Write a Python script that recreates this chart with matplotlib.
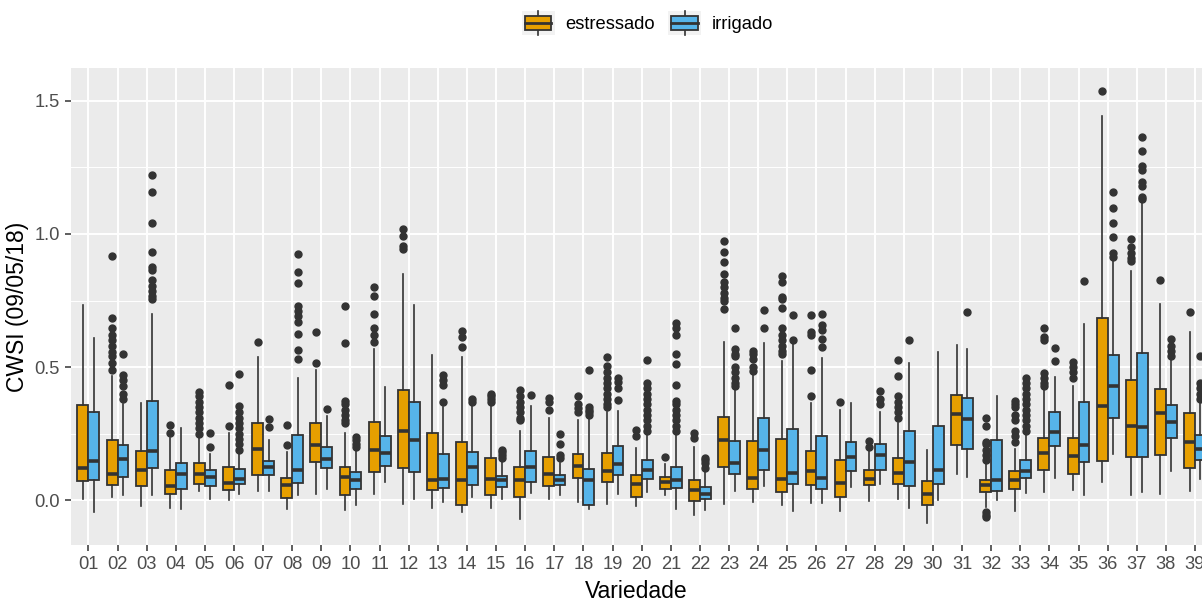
import matplotlib
matplotlib.use("Agg")
import matplotlib.pyplot as plt
from matplotlib.patches import Rectangle, Patch
from matplotlib.lines import Line2D
from matplotlib.legend_handler import HandlerBase

plt.rcParams['font.family'] = ['Liberation Sans', 'DejaVu Sans']

varieties = ['01', '02', '03', '04', '05', '06', '07', '08', '09', '10',
             '11', '12', '13', '14', '15', '16', '17', '18', '19', '20',
             '21', '22', '23', '24', '25', '26', '27', '28', '29', '30',
             '31', '32', '33', '34', '35', '36', '37', '38', '39']

# estressado
e_lo = [.005, .013, -.023, -.03, .036, 0.0, .036, -.032, .023, -.036,
        .023, -.013, -.03, -.045, -.03, -.071, .003, -.006, -.013, -.023,
        .02, -.054, -.013, -.006, -.017, -.009, -.039, -.003, .006, -.086,
        .097, -.026, -.039, .032, .039, .067, .019, .023, .036]
e_q1 = [.072, .055, .052, .023, .061, .039, .093, .009, .142, .019,
        .106, .119, .039, -.017, .019, .013, .052, .084, .067, .013,
        .041, -.004, .125, .041, .032, .055, .013, .055, .062, -.017,
        .206, .03, .043, .112, .099, .148, .161, .168, .12]
e_med = [.122, .099, .114, .052, .097, .065, .191, .055, .206, .086,
         .187, .261, .077, .075, .081, .074, .097, .129, .11, .061,
         .067, .039, .226, .084, .081, .11, .065, .081, .103, .023,
         .325, .058, .077, .177, .165, .355, .28, .329, .219]
e_q3 = [.357, .226, .183, .114, .138, .125, .29, .084, .29, .125,
        .294, .415, .252, .217, .157, .125, .161, .174, .178, .093,
        .088, .077, .313, .222, .23, .183, .152, .112, .157, .071,
        .396, .077, .11, .235, .235, .686, .451, .419, .326]
e_hi = [.733, .468, .364, .232, .239, .252, .539, .18, .49, .254,
        .568, .849, .546, .539, .355, .261, .31, .30, .333, .196,
        .135, .2, .596, .471, .522, .364, .338, .187, .29, .19,
        .583, .14, .193, .415, .428, 1.445, .86, .738, .632]
e_out = [[], [.916, .684, .645, .62, .60, .58, .555, .54, .516, .49], [],
         [.284, .252], [.406, .39, .37, .35, .33, .31, .29, .27, .25],
         [.432, .277], [.593], [.284, .206], [.632, .515],
         [.731, .59, .374, .36, .34, .32, .30, .29],
         [.80, .768, .70, .648, .62, .593], [1.019, .993, .955, .942], [],
         [.635, .613, .574], [.40, .39, .38, .37],
         [.413, .393, .37, .35, .33, .31, .30], [.385, .37, .34],
         [.393, .36, .345, .33],
         [.539, .503, .48, .46, .44, .42, .40, .38, .36, .35],
         [.264, .241], [.161], [.252, .232],
         [.974, .931, .893, .849, .82, .80, .78, .76, .75, .72],
         [.561, .548, .53, .50, .485],
         [.841, .82, .764, .755, .722, .648, .62, .60, .58, .56, .55],
         [.694, .632, .62, .49, .393], [.368], [.222, .20],
         [.526, .467, .39, .37, .35, .33, .31], [], [],
         [.31, .28, .22, .21, .19, .17, .15, -.045, -.055, -.065],
         [.374, .36, .35, .32, .30, .26, .24, .22],
         [.648, .613, .60, .477, .46, .44, .43], [.518, .50, .48, .46],
         [1.538], [.98, .95, .93, .91, .90], [.826], [.706]]

# irrigado
i_lo = [-.045, .02, .02, -.035, .006, .023, .036, .02, .043, -.017,
        .067, .006, -.006, .013, .003, .028, .02, -.032, .023, .03,
        -.035, -.036, .036, .054, -.039, -.009, .049, .061, -.028, 0.0,
        .086, 0.0, .026, .084, .019, .172, .03, .11, .08]
i_q1 = [.077, .088, .119, .041, .052, .061, .093, .065, .119, .041,
        .129, .106, .045, .055, .049, .067, .055, -.017, .093, .081,
        .045, .003, .097, .114, .062, .041, .11, .114, .052, .062,
        .193, .036, .084, .204, .142, .31, .161, .232, .152]
i_med = [.147, .155, .183, .097, .088, .081, .125, .112, .155, .075,
         .178, .226, .081, .123, .075, .123, .075, .077, .135, .114,
         .077, .023, .139, .187, .103, .084, .161, .17, .142, .114,
         .303, .074, .11, .255, .209, .43, .275, .293, .191]
i_q3 = [.332, .206, .374, .138, .112, .116, .148, .245, .20, .106,
        .241, .368, .174, .181, .09, .184, .094, .116, .204, .152,
        .125, .048, .222, .31, .268, .241, .217, .21, .258, .28,
        .384, .226, .152, .332, .368, .546, .551, .357, .245]
i_hi = [.61, .36, .70, .271, .174, .18, .226, .458, .316, .194,
        .426, .733, .35, .36, .15, .352, .14, .31, .335, .25,
        .243, .11, .419, .591, .587, .533, .364, .333, .516, .555,
        .568, .39, .245, .464, .66, .906, 1.125, .53, .368]
i_out = [[], [.548, .47, .45, .43, .40, .38],
         [1.222, 1.157, 1.042, .931, .877, .864, .826, .806, .787, .768, .755],
         [], [.252, .20], [.473, .355, .33, .31, .29, .27, .25, .23, .21, .19],
         [.306, .273],
         [.925, .858, .815, .73, .71, .69, .67, .626, .564, .53],
         [.342], [.238, .225, .21, .20], [], [], [.471, .452, .432, .37],
         [.38, .37], [.19, .18, .17, .16], [.396], [.248, .21, .17, .16],
         [.49, .35, .34, .33, .32], [.458, .445, .42, .378],
         [.526, .44, .42, .40, .38, .36, .34, .32, .30, .28, .26],
         [.667, .645, .62, .548, .51, .432, .374, .36, .34, .32, .30, .28, .26],
         [.16, .15, .14, .12],
         [.648, .568, .55, .54, .50, .48, .46, .44, .43],
         [.716, .648], [.697, .60], [.699, .658, .64, .604, .574], [],
         [.41, .38, .361], [.60], [], [.706], [],
         [.46, .44, .42, .40, .38, .36, .34, .32, .30, .28, .26],
         [.573, .522], [.822], [1.157, 1.099, 1.042, .99, .93, .915],
         [1.364, 1.31, 1.254, 1.24, 1.197, 1.18, 1.14, 1.13],
         [.606, .58, .56, .54], [.542, .44, .42, .40, .38]]

groups = ['estressado', 'irrigado']
colors = ['#E69F00', '#56B4E9']
edge = '#333333'


def make_stats(lo, q1, med, q3, hi, out):
    return [dict(whislo=a, q1=b, med=c, q3=d, whishi=e, fliers=f)
            for a, b, c, d, e, f in zip(lo, q1, med, q3, hi, out)]


class BoxKey(HandlerBase):
    # ggplot-like legend key: grey square with a small boxplot glyph
    def create_artists(self, legend, orig_handle, xdescent, ydescent,
                       width, height, fontsize, trans):
        x0, y0 = -xdescent, -ydescent
        fc = orig_handle.get_facecolor()
        bg = Rectangle((x0, y0), width, height, facecolor='#F2F2F2',
                       edgecolor='none', transform=trans)
        w1 = Line2D([x0 + width / 2] * 2, [y0, y0 + 0.2 * height],
                    color=edge, lw=1.2, transform=trans)
        w2 = Line2D([x0 + width / 2] * 2, [y0 + 0.8 * height, y0 + height],
                    color=edge, lw=1.2, transform=trans)
        bx = Rectangle((x0 + 0.1 * width, y0 + 0.2 * height), 0.8 * width,
                       0.6 * height, facecolor=fc, edgecolor=edge, lw=1.3,
                       transform=trans)
        md = Line2D([x0 + 0.1 * width, x0 + 0.9 * width],
                    [y0 + 0.5 * height] * 2, color=edge, lw=2,
                    transform=trans)
        return [bg, w1, w2, bx, md]


fig = plt.figure(figsize=(12.02, 6.01), dpi=100)
ax = fig.add_axes([0.059, 0.093, 0.941, 0.794])
ax.set_facecolor('#EBEBEB')

x = list(range(1, len(varieties) + 1))
all_stats = [make_stats(e_lo, e_q1, e_med, e_q3, e_hi, e_out),
             make_stats(i_lo, i_q1, i_med, i_q3, i_hi, i_out)]
for k, (stats, col) in enumerate(zip(all_stats, colors)):
    offs = -0.1875 if k == 0 else 0.1875
    ax.bxp(stats, positions=[p + offs for p in x], widths=0.375,
           patch_artist=True, showcaps=False, manage_ticks=False,
           boxprops=dict(facecolor=col, edgecolor=edge, linewidth=1.3),
           medianprops=dict(color=edge, linewidth=2.6),
           whiskerprops=dict(color=edge, linewidth=1.2),
           flierprops=dict(marker='o', markerfacecolor=edge,
                           markeredgecolor=edge, markersize=5,
                           linestyle='none'))

ax.set_xlim(0.4, 39.24)
ax.set_ylim(-0.169, 1.624)
ax.set_xticks(x, varieties)
ax.set_yticks([0.0, 0.5, 1.0, 1.5], ['0.0', '0.5', '1.0', '1.5'])
ax.set_yticks([0.25, 0.75, 1.25], minor=True)
ax.grid(which='major', color='white', linewidth=1.4)
ax.grid(which='minor', axis='y', color='white', linewidth=0.7)
ax.set_axisbelow(True)
for s in ax.spines.values():
    s.set_visible(False)
ax.tick_params(which='major', length=4, width=1.1, color=edge,
               labelsize=13.2, labelcolor='#4D4D4D', pad=4)
ax.tick_params(which='minor', length=0)

ax.set_xlabel('Variedade', fontsize=16.5, labelpad=5)
ax.set_ylabel('CWSI (09/05/18)', fontsize=16.5, labelpad=4)

fig.legend(handles=[Patch(facecolor=c) for c in colors], labels=groups,
           handler_map={Patch: BoxKey()}, loc='center',
           bbox_to_anchor=(0.5387, 0.962), ncol=2, frameon=False,
           fontsize=13.2, handlelength=1.8, handleheight=1.6,
           handletextpad=0.6, columnspacing=0.7, borderpad=0)

fig.savefig('out.png', dpi=100)
